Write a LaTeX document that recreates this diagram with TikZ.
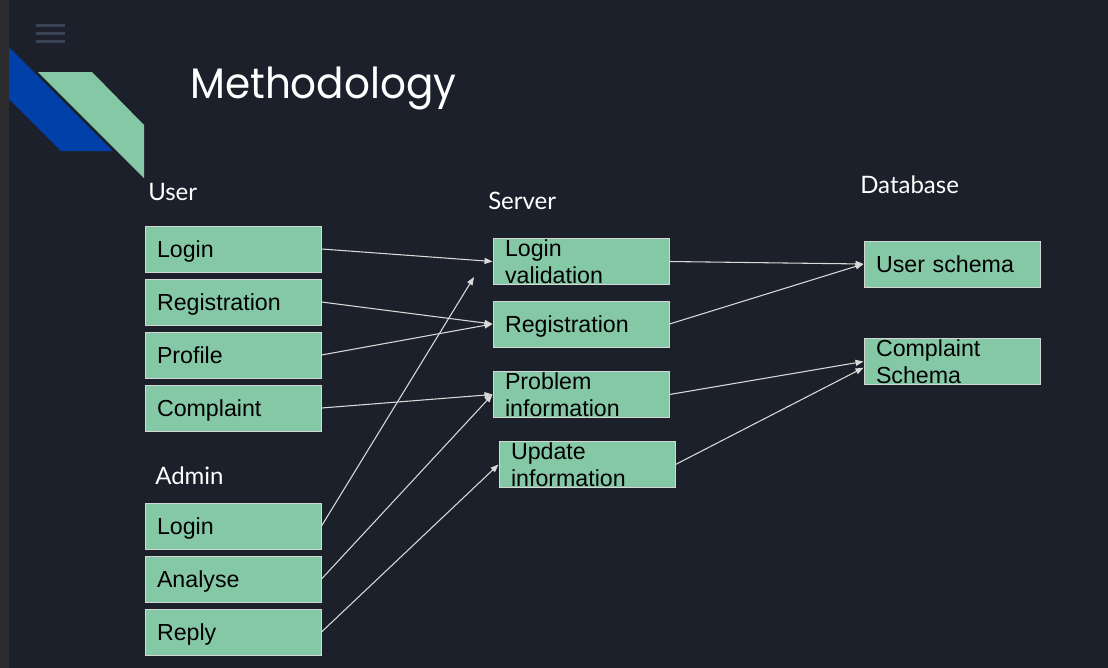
\documentclass[tikz,border=0pt]{standalone}
\usepackage{fontspec}
\setmainfont{Liberation Sans}
\newfontfamily\labelfont{Lato}
\newfontfamily\titlefont[FakeStretch=0.95]{Poppins}
\usepackage{tikz}
\usetikzlibrary{positioning}
\usetikzlibrary{arrows.meta}
\usepackage{xcolor}

\definecolor{slidebg}{HTML}{1C202B}
\definecolor{stripgray}{HTML}{2C2C2E}
\definecolor{menugray}{HTML}{3A4257}
\definecolor{logoblue}{HTML}{0040A8}
\definecolor{boxgreen}{HTML}{85C8A6}
\definecolor{boxline}{HTML}{D6D6D6}
\definecolor{arrowgray}{HTML}{D9D9D9}

\begin{document}
\begin{tikzpicture}[x=0.75pt,y=-0.75pt,
  box/.style={draw=boxline, fill=boxgreen, line width=0.75pt, minimum width=132pt, minimum height=34.5pt,
              inner xsep=9pt, inner ysep=0pt, text width=114pt, align=left,
              font=\fontsize{17.4}{20.25}\selectfont, text=black},
  oneline/.style={text height=12.45pt, text depth=0pt},
  heading/.style={anchor=base west, inner sep=0pt, text=white, font=\labelfont\fontsize{18}{20}\selectfont},
  link/.style={draw=arrowgray, line width=0.8pt, -{Triangle[length=6pt,width=4.5pt]}}]

% slide background and logo
\useasboundingbox (0,0) rectangle (1108,668);
\fill[slidebg] (0,0) rectangle (1108,668);
\fill[stripgray] (0,0) rectangle (9,668);
\foreach \y in {25.3,33.3,41.3}
  \draw[menugray, line width=2.2pt] (36,\y) -- (65,\y);
\fill[logoblue]  (9,47) -- (113,151) -- (61,151) -- (9,99) -- cycle;
\fill[boxgreen]  (38,72) -- (92,72) -- (144,125) -- (144,178) -- cycle;

\node(TITLE)    [anchor=base west, inner sep=0pt, text=white, font=\titlefont\fontsize{32}{36}\selectfont] at (190,98) {Methodology};

% column headings
\node(USER)     [heading] at (148,200) {User};
\node(ADMIN)    [heading] at (155,484) {Admin};
\node(SERVER)   [heading] at (488,209) {Server};
\node(DATABASE) [heading] at (860,193) {Database};

% user side
\node(uLogin)     [box, oneline] at (233,249)           {Login};
\node(uReg)       [box, oneline, below=4.5pt of uLogin]  {Registration};
\node(uProfile)   [box, oneline, below=4.5pt of uReg]    {Profile};
\node(uComplaint) [box, oneline, below=4.5pt of uProfile] {Complaint};

% admin side
\node(aLogin)     [box, oneline] at (233,526)           {Login};
\node(aAnalyse)   [box, oneline, below=4.5pt of aLogin]  {Analyse};
\node(aReply)     [box, oneline, below=4.5pt of aAnalyse] {Reply};

% server
\node(sLoginVal)  [box] at (581,261.5) {Login\\validation};
\node(sReg)       [box, oneline] at (581,324)   {Registration};
\node(sProblem)   [box] at (581,394.5) {Problem\\information};
\node(sUpdate)    [box] at (587,464.5) {Update\\information};

% database
\node(dUser)      [box, oneline] at (952,264)   {User schema};
\node(dComplaint) [box] at (952,361.5) {Complaint\\Schema};

\coordinate(loginTip) at (474,277);

\draw[link](uLogin.east)     -- (sLoginVal.west);
\draw[link](uReg.east)       -- (sReg.west);
\draw[link](uProfile.east)   -- (sReg.west);
\draw[link](uComplaint.east) -- (sProblem.west);
\draw[link](aLogin.east)     -- (loginTip);
\draw[link](aAnalyse.east)   -- (sProblem.west);
\draw[link](aReply.east)     -- (sUpdate.west);
\draw[link](sLoginVal.east)  -- (dUser.west);
\draw[link](sReg.east)       -- (dUser.west);
\draw[link](sProblem.east)   -- (dComplaint.west);
\draw[link](sUpdate.east)    -- (dComplaint.184);
\end{tikzpicture}
\end{document}
